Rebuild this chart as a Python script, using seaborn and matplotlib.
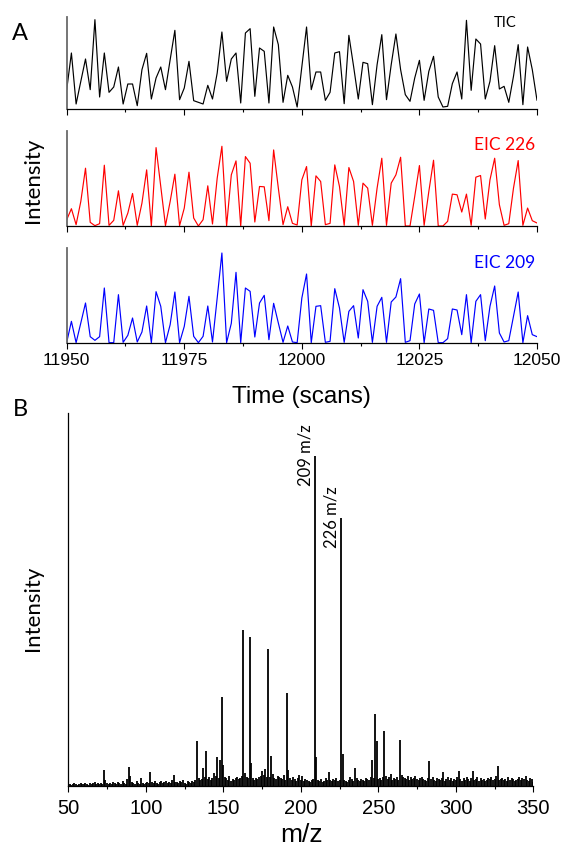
import numpy as np
import matplotlib
matplotlib.use("Agg")
import matplotlib.pyplot as plt
from matplotlib.ticker import MultipleLocator
import seaborn as sns

sns.set_style("ticks")
plt.rcParams["font.family"] = ["Liberation Sans", "DejaVu Sans"]
plt.rcParams["text.color"] = "black"
plt.rcParams["axes.labelcolor"] = "black"
plt.rcParams["xtick.color"] = "black"
plt.rcParams["ytick.color"] = "black"

# ---- Panel A: chromatograms, one point per scan (11950 .. 12050) ----
scans = list(range(11950, 12051))

tic = [58, 168, 15, 83, 150, 58, 268, 36, 168, 50,
       66, 126, 15, 75, 75, 10, 118, 167, 30, 93,
       126, 58, 148, 236, 28, 63, 143, 25, 20, 15,
       71, 30, 108, 231, 83, 150, 168, 18, 228, 241,
       38, 183, 173, 18, 246, 193, 20, 101, 66, 6,
       127, 246, 58, 111, 111, 26, 50, 168, 172, 16,
       221, 128, 30, 140, 136, 13, 133, 223, 28, 133,
       225, 118, 43, 23, 93, 146, 26, 113, 158, 36,
       6, 8, 76, 111, 30, 266, 56, 210, 195, 30,
       83, 190, 60, 68, 20, 98, 193, 13, 186, 118,
       26]

eic226 = [19, 52, 4, 74, 174, 11, 1, 7, 183, 2,
          17, 106, 2, 39, 98, 2, 69, 169, 0, 236,
          119, 1, 74, 156, 1, 54, 162, 24, 0, 19,
          121, 6, 144, 240, 0, 154, 196, 0, 209, 189,
          12, 119, 118, 16, 229, 114, 4, 58, 8, 3,
          139, 179, 0, 151, 134, 4, 8, 184, 119, 2,
          176, 134, 2, 129, 114, 2, 114, 204, 2, 129,
          154, 207, 0, 0, 89, 182, 2, 104, 198, 0,
          0, 14, 96, 94, 42, 96, 2, 147, 152, 21,
          139, 204, 64, 2, 7, 114, 197, 2, 54, 16,
          9]

eic209 = [2, 65, 1, 60, 120, 19, 8, 19, 165, 1,
          1, 145, 2, 23, 75, 3, 33, 111, 1, 154,
          110, 1, 55, 153, 1, 50, 140, 20, 1, 20,
          111, 3, 135, 270, 1, 59, 212, 1, 165, 155,
          18, 120, 143, 10, 119, 60, 2, 51, 3, 1,
          135, 207, 1, 110, 112, 2, 5, 163, 105, 2,
          95, 112, 15, 160, 125, 2, 110, 137, 2, 123,
          138, 193, 2, 7, 117, 147, 1, 102, 98, 1,
          1, 13, 102, 99, 25, 145, 1, 125, 145, 7,
          110, 171, 30, 3, 7, 80, 153, 1, 82, 25,
          19]

trace_labels = ["TIC", "EIC 226", "EIC 209"]
trace_colors = ["#000000", "#ff0000", "#0000ff"]
trace_ylims = [276, 286, 285]

# ---- Panel B: mass spectrum, one intensity per integer m/z (50 .. 350) ----
mz = list(range(50, 351))
spectrum = [
    1, 2, 1, 2, 3, 2, 1, 2, 3, 2,
    2, 3, 2, 1, 3, 2, 3, 4, 2, 3,
    2, 3, 2, 16, 6, 3, 2, 3, 2, 4,
    3, 2, 4, 3, 2, 5, 3, 2, 7, 19,
    10, 4, 3, 2, 5, 3, 2, 8, 3, 2,
    3, 4, 3, 14, 4, 3, 5, 3, 2, 4,
    5, 3, 4, 5, 3, 4, 3, 6, 11, 4,
    4, 3, 5, 4, 6, 3, 2, 5, 4, 3,
    5, 4, 6, 45, 8, 6, 7, 18, 9, 35,
    7, 9, 6, 8, 13, 10, 29, 8, 26, 89,
    21, 9, 8, 6, 10, 5, 7, 6, 8, 9,
    7, 8, 10, 156, 13, 9, 8, 149, 23, 8,
    6, 8, 7, 9, 10, 15, 11, 17, 9, 137,
    9, 30, 12, 8, 7, 10, 9, 8, 7, 11,
    6, 93, 16, 8, 6, 9, 7, 5, 8, 11,
    6, 10, 5, 7, 6, 5, 4, 6, 7, 330,
    29, 6, 5, 7, 4, 5, 8, 6, 14, 6,
    5, 7, 6, 8, 5, 6, 268, 32, 6, 5,
    4, 6, 9, 7, 5, 18, 8, 6, 5, 7,
    6, 5, 8, 7, 6, 9, 26, 8, 72, 45,
    7, 8, 6, 9, 55, 10, 7, 9, 12, 6,
    8, 7, 9, 6, 46, 11, 9, 8, 7, 10,
    6, 9, 7, 8, 10, 7, 6, 8, 9, 7,
    6, 5, 8, 25, 7, 9, 6, 5, 8, 7,
    6, 8, 14, 5, 7, 9, 6, 8, 5, 7,
    6, 9, 15, 7, 5, 8, 6, 9, 7, 5,
    8, 15, 6, 7, 9, 5, 8, 6, 7, 5,
    6, 8, 7, 9, 6, 7, 10, 20, 6, 7,
    8, 6, 7, 5, 9, 6, 8, 7, 5, 6,
    7, 9, 6, 8, 7, 10, 6, 5, 8, 7,
    4,
]
labelled_peaks = [209, 226]

LABEL_FONT = ["Lato", "DejaVu Sans"]

W, H = 564, 857
fig = plt.figure(figsize=(W / 100, H / 100), dpi=100)


def frac(x0, y_top, x1, y_bot):
    return [x0 / W, 1 - y_bot / H, (x1 - x0) / W, (y_bot - y_top) / H]


def style_bottom(ax, major, minor, labelsize):
    ax.xaxis.set_major_locator(MultipleLocator(major))
    ax.xaxis.set_minor_locator(MultipleLocator(minor))
    ax.tick_params(axis="x", which="major", direction="out", length=4.5,
                   width=0.8, color="black", labelcolor="black",
                   labelsize=labelsize, pad=3)
    ax.tick_params(axis="x", which="minor", direction="out", length=2.5,
                   width=0.8, color="black")
    ax.set_yticks([])
    ax.set_ylabel("")
    ax.set_xlabel("")
    for side in ("top", "right"):
        ax.spines[side].set_visible(False)
    ax.spines["bottom"].set_color("black")
    ax.spines["bottom"].set_linewidth(0.9)


# ---- chromatogram panels ----
panel_rows = [(17, 109), (131, 226), (248, 343)]
series = [tic, eic226, eic209]
axes_a = []
for (top, bot), vals, name, col, ymax in zip(panel_rows, series, trace_labels,
                                             trace_colors, trace_ylims):
    ax = fig.add_axes(frac(66.7, top, 537, bot))
    sns.lineplot(x=scans, y=vals, ax=ax, color=col, linewidth=0.85)
    ax.set_xlim(11950, 12050)
    ax.set_ylim(0, ymax)
    style_bottom(ax, 25, 12.5, 12.5)
    ax.spines["left"].set_color("#6a6a6a")
    ax.spines["left"].set_linewidth(1.3)
    axes_a.append(ax)

for ax in axes_a[:-1]:
    ax.tick_params(axis="x", labelbottom=False)

fig.text(517 / W, 1 - 23 / H, trace_labels[0], color=trace_colors[0],
         ha="right", va="center", fontsize=10.5, family=LABEL_FONT)
fig.text(535 / W, 1 - 145 / H, trace_labels[1], color=trace_colors[1],
         ha="right", va="center", fontsize=12.5, family=LABEL_FONT)
fig.text(535 / W, 1 - 263 / H, trace_labels[2], color=trace_colors[2],
         ha="right", va="center", fontsize=12.5, family=LABEL_FONT)

fig.text(301 / W, 1 - 397 / H, "Time (scans)", ha="center", va="center",
         fontsize=17.5)
fig.text(20 / W, 1 - 34 / H, "A", ha="center", va="center", fontsize=17,
         family=LABEL_FONT)
fig.text(33 / W, 1 - 180 / H, "Intensity", ha="center", va="center",
         rotation=90, fontsize=16, family=LABEL_FONT)

# ---- mass spectrum panel ----
axb = fig.add_axes(frac(68.3, 413, 533.3, 785.5))
axb.vlines(mz, 0, spectrum, color="black", linewidth=1.3)
axb.set_xlim(50, 350)
axb.set_ylim(0, 372.5)
style_bottom(axb, 50, 25, 14.5)
axb.tick_params(axis="x", which="major", pad=5)
axb.spines["left"].set_color("black")
axb.spines["left"].set_linewidth(0.9)

for p in labelled_peaks:
    val = spectrum[mz.index(p)]
    axb.text(p - 6.2, val, f"{p} m/z", rotation=90, ha="center", va="center",
             fontsize=12, family=LABEL_FONT)

fig.text(302 / W, 1 - 835 / H, "m/z", ha="center", va="center", fontsize=19)
fig.text(20 / W, 1 - 410 / H, "B", ha="center", va="center", fontsize=17,
         family=LABEL_FONT)
fig.text(33 / W, 1 - 608 / H, "Intensity", ha="center", va="center",
         rotation=90, fontsize=16, family=LABEL_FONT)

fig.savefig("out.png", dpi=100)
